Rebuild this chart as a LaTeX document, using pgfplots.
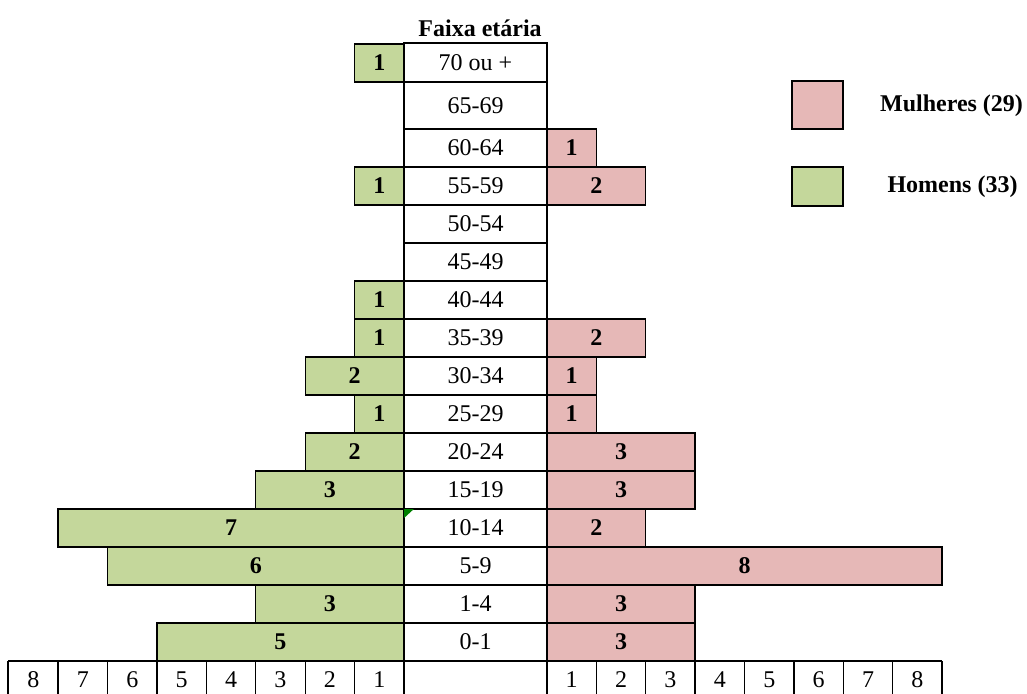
\documentclass[border=0pt]{standalone}
\usepackage{pgfplots}
\usepackage{pgfplotstable}
\pgfplotsset{compat=1.18}
\usepackage{fontspec}
\setmainfont{Liberation Serif}
\definecolor{fem}{HTML}{E6B8B7}
\definecolor{mal}{HTML}{C4D79B}
\definecolor{cmt}{HTML}{008000}

% y = row index (0-1 -> 0 ... 60-64 -> 13; top two rows are taller in the original)
\pgfplotstableread{
y v
15.24 1
12 1
9 1
8 1
7 2
6 1
5 2
4 3
3 7
2 6
1 3
0 5
}\men
\pgfplotstableread{
y v
13 1
12 2
8 2
7 1
6 1
5 3
4 3
3 2
2 8
1 3
0 3
}\women
\pgfplotstableread[col sep=comma]{
y,lab
15.24,70 ou +
14.12,65-69
13,60-64
12,55-59
11,50-54
10,45-49
9,40-44
8,35-39
7,30-34
6,25-29
5,20-24
4,15-19
3,10-14
2,5-9
1,1-4
0,0-1
}\ages

\begin{document}
\begin{tikzpicture}[font=\fontsize{24}{28}\selectfont]
\useasboundingbox (0,0) rectangle (1027pt,693pt);
\clip (0,0) rectangle (1027pt,693pt);
\pgfplotsset{base/.style={
  scale only axis, width=1027pt, height=693pt,
  at={(0,0)}, anchor=south west, hide axis,
  ymin=-1.342, ymax=16.895, clip=false}}
% ---------- men (origin at centre-column left edge) ----------
\begin{axis}[base, xmin=-8.178, xmax=12.611]
\addplot[xbar, bar shift=0pt, bar width=1, fill=mal, draw=black, line width=1.4pt]
  table[x expr=-\thisrow{v}, y=y] {\men};
\addplot[draw=none, nodes near coords, point meta=explicit symbolic,
  every node near coord/.append style={anchor=center, font=\fontsize{24}{28}\selectfont\bfseries}]
  table[x expr=-\thisrow{v}/2, y=y, meta=v] {\men};
% centre column
\draw[line width=1.4pt] (axis cs:0,15.763) rectangle (axis cs:2.895,-0.5);
\draw[line width=1.4pt] (axis cs:0,14.737) -- (axis cs:2.895,14.737);
\pgfplotsinvokeforeach{0.5,1.5,...,13.5}{\draw[line width=1.4pt] (axis cs:0,#1) -- (axis cs:2.895,#1);}
\addplot[draw=none, nodes near coords, point meta=explicit symbolic,
  every node near coord/.append style={anchor=center}]
  table[x expr=1.4474, y=y, meta=lab] {\ages};
\fill[cmt] (axis cs:0,3.5) -- (axis cs:0.2,3.5) -- (axis cs:0,3.26) -- cycle;
% bottom scale row (left part + blank centre cell)
\draw[line width=1.4pt] (axis cs:-8.016,-0.5) -- (axis cs:2.895,-0.5);
\pgfplotsinvokeforeach{-8.016,-7,-6,-5,-4,-3,-2,-1,0,2.895}{\draw[line width=1.4pt] (axis cs:#1,-0.5) -- (axis cs:#1,-1.7);}
\pgfplotsinvokeforeach{1,...,8}{\node at (axis cs:-#1+0.5,-1.0) {#1};}
% title
\node[font=\fontsize{24}{28}\selectfont\bfseries] at (axis cs:1.54,16.16) {Faixa etária};
\end{axis}
% ---------- women (origin at centre-column right edge) ----------
\begin{axis}[base, xmin=-11.073, xmax=9.717]
\addplot[xbar, bar shift=0pt, bar width=1, fill=fem, draw=black, line width=1.4pt]
  table[x=v, y=y] {\women};
\addplot[draw=none, nodes near coords, point meta=explicit symbolic,
  every node near coord/.append style={anchor=center, font=\fontsize{24}{28}\selectfont\bfseries}]
  table[x expr=\thisrow{v}/2, y=y, meta=v] {\women};
% bottom scale row (right part)
\draw[line width=1.4pt] (axis cs:0,-0.5) -- (axis cs:8,-0.5);
\pgfplotsinvokeforeach{1,...,8}{\draw[line width=1.4pt] (axis cs:#1,-0.5) -- (axis cs:#1,-1.7);}
\pgfplotsinvokeforeach{1,...,8}{\node at (axis cs:#1-0.5,-1.0) {#1};}
% legend
\draw[line width=1.4pt, fill=fem] (axis cs:4.96,14.76) rectangle (axis cs:5.99,13.5);
\draw[line width=1.4pt, fill=mal] (axis cs:4.96,12.5) rectangle (axis cs:5.99,11.47);
\node[font=\fontsize{24}{28}\selectfont\bfseries] at (axis cs:8.19,14.1) {Mulheres (29)};
\node[font=\fontsize{24}{28}\selectfont\bfseries] at (axis cs:8.21,11.97) {Homens (33)};
\end{axis}
\end{tikzpicture}
\end{document}
